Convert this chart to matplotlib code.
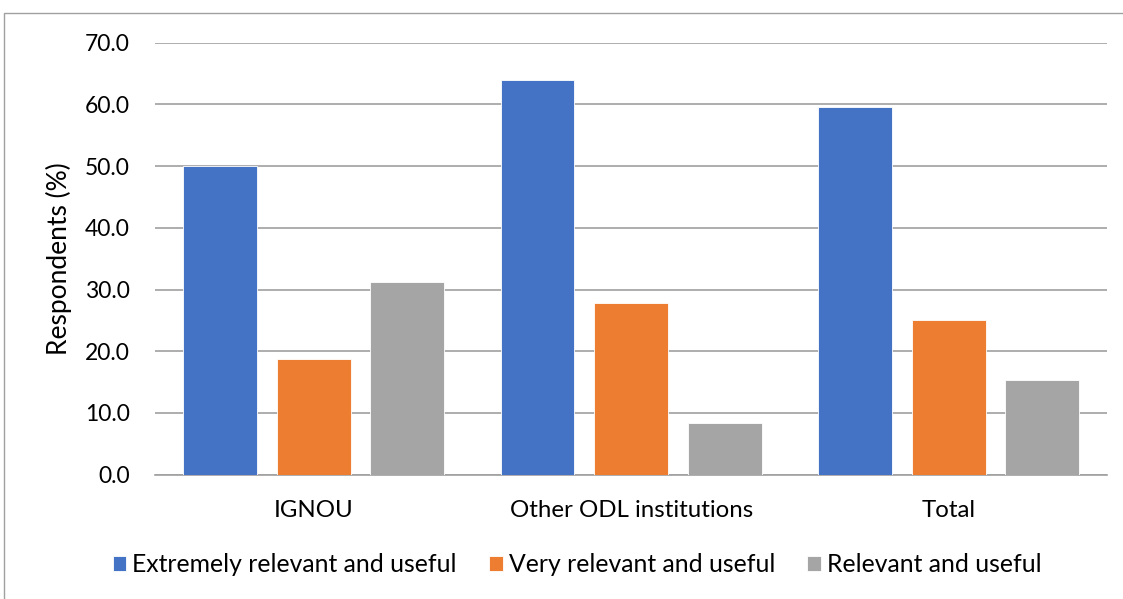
import matplotlib
matplotlib.use("Agg")
import matplotlib.pyplot as plt
from matplotlib.patches import Rectangle
import numpy as np

plt.rcParams['font.family'] = ['Lato', 'DejaVu Sans']

categories = ["IGNOU", "Other ODL institutions", "Total"]
series_names = ["Extremely relevant and useful", "Very relevant and useful", "Relevant and useful"]
extremely = [50.0, 63.9, 59.6]
very = [18.8, 27.8, 25.0]
relevant = [31.3, 8.3, 15.4]
y_ticks = [0, 10, 20, 30, 40, 50, 60, 70]
colors = ["#4472C4", "#ED7D31", "#A5A5A5"]

fig = plt.figure(figsize=(11.23, 5.99), dpi=100)
ax = fig.add_axes([0.138, 0.2075, 0.848, 0.7212])

x = np.arange(len(categories))
step = 0.295
width = 0.233
for i, (vals, name, col) in enumerate(zip([extremely, very, relevant], series_names, colors)):
    ax.bar(x + (i - 1) * step, vals, width=width, color=col, label=name,
           edgecolor="white", linewidth=0.6, zorder=3)

ax.set_xlim(-0.5, 2.5)
ax.set_ylim(0, 70)
ax.set_yticks(y_ticks)
ax.set_yticklabels([f"{t:.1f}" for t in y_ticks], fontsize=16.5)
ax.set_xticks(x)
ax.set_xticklabels(categories, fontsize=17.3)
ax.tick_params(axis="y", length=0, pad=18)
ax.tick_params(axis="x", length=0, pad=18)
ax.grid(axis="y", color="#a0a0a0", linewidth=1.2, zorder=0)
for s in ["top", "right", "left"]:
    ax.spines[s].set_visible(False)
ax.spines["bottom"].set_color("#a0a0a0")
ax.spines["bottom"].set_linewidth(1.2)
ax.set_ylabel("Respondents (%)", fontsize=19, labelpad=9)

fig.legend(loc="center", bbox_to_anchor=(0.514, 0.057), ncol=3, frameon=False,
           fontsize=17.8, handlelength=0.55, handleheight=0.55, handletextpad=0.25,
           columnspacing=1.3)

# chart frame
fig.add_artist(Rectangle((4 / 1123, -0.1), 1.2, 1 - 13 / 599 + 0.1,
                         transform=fig.transFigure, fill=False,
                         edgecolor="#a0a0a0", linewidth=1.0))

fig.savefig("out.png", dpi=100)
